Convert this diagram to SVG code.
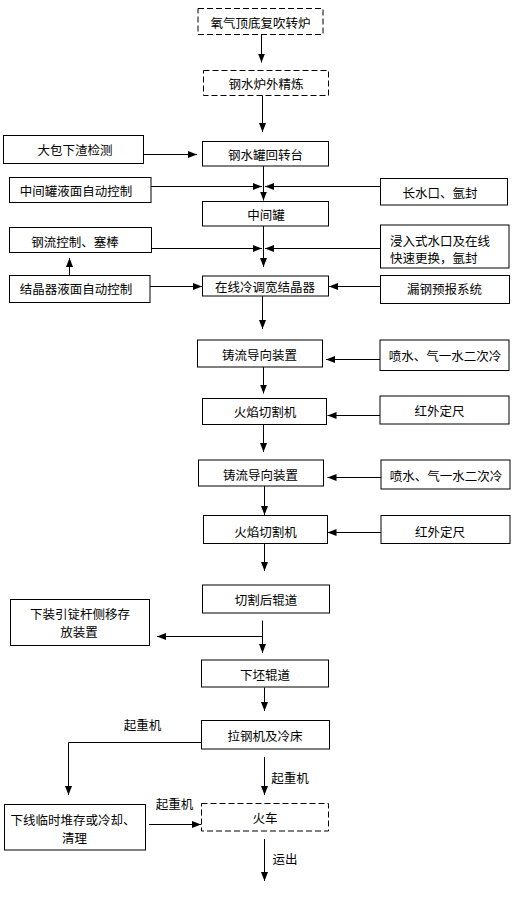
<svg xmlns="http://www.w3.org/2000/svg" width="514" height="900" viewBox="0 0 514 900">
<defs>
<style>
rect{fill:#fff;stroke:#000;stroke-width:1}
.d{stroke-dasharray:6,3}
text{font-family:"Noto Sans CJK SC","Noto Sans",sans-serif;font-size:12.5px;fill:#000;text-anchor:middle;dominant-baseline:central}
.l{text-anchor:start}
#connectors line,#connectors polyline{stroke:#000;stroke-width:1;fill:none;marker-end:url(#ah)}
</style>
<marker id="ah" markerUnits="userSpaceOnUse" markerWidth="10" markerHeight="8" refX="9" refY="3.5" orient="auto">
<path d="M0,0 L9,3.5 L0,7 z" fill="#000"/>
</marker>
</defs>
<rect x="0" y="0" width="514" height="900" style="stroke:none;fill:#fff"/>
<g id="connectors">
<line x1="261.5" y1="34.5" x2="261.5" y2="62.5"/>
<line x1="262.5" y1="95.5" x2="262.5" y2="132"/>
<line x1="143.5" y1="154.5" x2="197" y2="154.5"/>
<line x1="263.5" y1="166" x2="263.5" y2="200.5"/>
<line x1="151" y1="186.5" x2="262" y2="186.5"/>
<line x1="380.5" y1="186.5" x2="265" y2="186.5"/>
<line x1="263.5" y1="226" x2="263.5" y2="267"/>
<line x1="151.5" y1="248.5" x2="262" y2="248.5"/>
<line x1="380.5" y1="248.5" x2="265" y2="248.5"/>
<line x1="69.5" y1="275.5" x2="69.5" y2="258"/>
<line x1="150" y1="286.5" x2="202" y2="286.5"/>
<line x1="380.5" y1="286.5" x2="329" y2="286.5"/>
<line x1="262.5" y1="296" x2="262.5" y2="329"/>
<line x1="380" y1="359.5" x2="326" y2="359.5"/>
<line x1="263.5" y1="367" x2="263.5" y2="393.5"/>
<line x1="380" y1="415.5" x2="327.5" y2="415.5"/>
<line x1="263.5" y1="424.5" x2="263.5" y2="452"/>
<line x1="381" y1="477.5" x2="327.5" y2="477.5"/>
<line x1="264.5" y1="486" x2="264.5" y2="515"/>
<line x1="381" y1="532.5" x2="327.5" y2="532.5"/>
<line x1="264.5" y1="543.5" x2="264.5" y2="571"/>
<line x1="262.5" y1="620.5" x2="262.5" y2="653"/>
<line x1="262.5" y1="636.5" x2="157" y2="636.5"/>
<line x1="264.5" y1="687.5" x2="264.5" y2="711"/>
<polyline points="202,742.5 68.5,742.5 68.5,795"/>
<line x1="264.5" y1="757" x2="264.5" y2="795"/>
<line x1="149" y1="824.5" x2="201" y2="824.5"/>
<line x1="264.5" y1="839" x2="264.5" y2="881"/>
<text x="142.5" y="724">起重机</text>
<text x="290" y="777">起重机</text>
<text x="174.5" y="803">起重机</text>
<text x="285" y="858">运出</text>
</g>
<g id="n1"><rect class="d" x="198" y="8.5" width="125" height="26"/><text x="260.5" y="22">氧气顶底复吹转炉</text></g>
<g id="n2"><rect class="d" x="203.5" y="70.5" width="125" height="25"/><text x="266" y="83.5">钢水炉外精炼</text></g>
<g id="n3"><rect x="202.5" y="141.5" width="126" height="24.5"/><text x="265.5" y="154">钢水罐回转台</text></g>
<g id="n4"><rect x="3.5" y="135.5" width="140" height="28"/><text x="75" y="149.5">大包下渣检测</text></g>
<g id="n5"><rect x="9.5" y="177.5" width="141.5" height="25"/><text x="76" y="190.5">中间罐液面自动控制</text></g>
<g id="n6"><rect x="380.5" y="178.5" width="127" height="26.5"/><text x="440" y="192">长水口、氩封</text></g>
<g id="n7"><rect x="202.5" y="201.5" width="126" height="24.5"/><text x="266" y="214.5">中间罐</text></g>
<g id="n8"><rect x="9.5" y="227.5" width="142" height="25"/><text x="75" y="241">钢流控制、塞棒</text></g>
<g id="n9"><rect x="380.5" y="225" width="128.5" height="43"/><text class="l" x="390" y="240">浸入式水口及在线</text><text class="l" x="390" y="257.5">快速更换，氩封</text></g>
<g id="n10"><rect x="202.5" y="276" width="126" height="20"/><text x="265" y="286">在线冷调宽结晶器</text></g>
<g id="n11"><rect x="9.5" y="275.5" width="140.5" height="27"/><text x="76" y="288.5">结晶器液面自动控制</text></g>
<g id="n12"><rect x="380.5" y="275.5" width="129" height="28"/><text x="444.5" y="288.5">漏钢预报系统</text></g>
<g id="n13"><rect x="197.5" y="340" width="125" height="27"/><text x="259.5" y="354">铸流导向装置</text></g>
<g id="n14"><rect x="380" y="340" width="129" height="30.5"/><text x="445" y="355">喷水、气一水二次冷</text></g>
<g id="n15"><rect x="202.5" y="398.5" width="124" height="26"/><text x="265" y="411.5">火焰切割机</text></g>
<g id="n16"><rect x="380" y="396" width="129" height="28"/><text x="439.5" y="410">红外定尺</text></g>
<g id="n17"><rect x="198.5" y="460" width="125" height="26"/><text x="260.5" y="474">铸流导向装置</text></g>
<g id="n18"><rect x="381" y="460" width="129" height="29"/><text x="446" y="475">喷水、气一水二次冷</text></g>
<g id="n19"><rect x="203.5" y="515.5" width="124" height="28"/><text x="265.5" y="531.5">火焰切割机</text></g>
<g id="n20"><rect x="381" y="515.5" width="129" height="28"/><text x="440" y="531">红外定尺</text></g>
<g id="n21"><rect x="202.5" y="585" width="127" height="28"/><text x="266" y="599.5">切割后辊道</text></g>
<g id="n22"><rect x="10.5" y="599.5" width="139" height="46"/><text x="80" y="613.5">下装引锭杆侧移存</text><text x="79" y="631.5">放装置</text></g>
<g id="n23"><rect x="201.5" y="660" width="127" height="27"/><text x="265" y="674">下坯辊道</text></g>
<g id="n24"><rect x="201.5" y="720.5" width="128" height="28.5"/><text x="265" y="735">拉钢机及冷床</text></g>
<g id="n25"><rect x="4.5" y="804.5" width="141" height="45.5"/><text x="73" y="819.5">下线临时堆存或冷却、</text><text x="74.5" y="837.5">清理</text></g>
<g id="n26"><rect class="d" x="201.5" y="803.5" width="127" height="27.5"/><text x="265" y="817.5">火车</text></g>
</svg>
